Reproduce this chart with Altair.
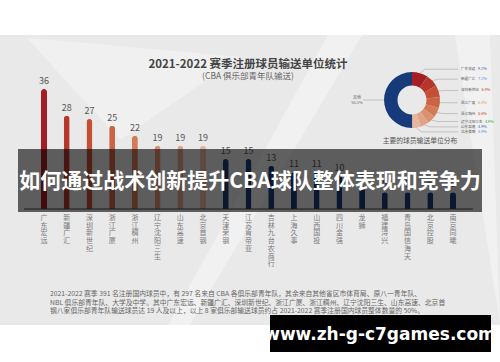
import altair as alt
import pandas as pd
import numpy as np

# ---------------- data ----------------
teams = ["广东宏远", "新疆广汇", "深圳新世纪", "浙江广厦", "浙江稠州", "辽宁沈阳三生",
         "山东高速", "北京首钢", "天津荣钢", "江苏肯帝亚", "吉林九台农商行", "上海久事",
         "山西国投", "四川金强", "龙狮", "福建浔兴", "青岛国信海天", "北京控股", "南京同曦"]
players = [36, 28, 27, 25, 22, 19, 19, 19, 15, 15, 13, 11, 11, 10, 7, 5, 5, 5, 5]

warm = ["#a61e25", "#b5372c", "#c24f36", "#cb6444", "#d47a57", "#db906f", "#e0a386", "#e5b59d"]
navy = "#173b7a"
bar_colors = warm + [navy] * (len(teams) - len(warm))

donut_names = ["广东宏远", "新疆广汇", "深圳新世纪", "浙江广厦", "浙江稠州",
               "辽宁沈阳三生", "山东高速", "北京首钢", "其他"]
donut_pct = [9.2, 7.2, 6.9, 6.4, 5.6, 4.9, 4.9, 4.9, 50.1]
donut_colors = warm + [navy]
pct_text_colors = ["#3b5ba5", "#4a90d9", "#c0392b", "#e0a030", "#c0392b",
                   "#2ca02c", "#3b5ba5", "#4a90d9"]

title_text = "2021-2022 赛季注册球员输送单位统计"
subtitle_text = "(CBA 俱乐部青年队输送)"
donut_caption = "主要的球员输送单位分布"
banner_text = "如何通过战术创新提升CBA球队整体表现和竞争力"
footer_lines = [
    "\u3000\u30002021-2022 赛季 391 名注册国内球员中，有 297 名来自 CBA 各俱乐部青年队，其余来自其他省区市体育局、原八一青年队、",
    "NBL 俱乐部青年队、大学及中学。其中广东宏远、新疆广汇、深圳新世纪、浙江广厦、浙江稠州、辽宁沈阳三生、山东高速、北京首",
    "钢八家俱乐部青年队输送球员达 19 人及以上，以上 8 家俱乐部输送球员约占 2021-2022 赛季注册国内球员整体数量的 50%。",
]
url_text = "www.zh-g-c7games.com"

FONT = "Noto Sans CJK SC"

# ---------------- tables ----------------
bars_df = pd.DataFrame({"team": teams, "players": players, "color": bar_colors})
donut_df = pd.DataFrame({"name": donut_names, "pct": donut_pct,
                         "color": donut_colors, "idx": range(len(donut_names))})

# donut geometry (layout)
CX, CY, R_OUT, R_IN = 412, 100, 28, 14.5
cum = np.cumsum(donut_pct)
start = np.concatenate([[0], cum[:-1]])
mid_ang = (start + np.array(donut_pct) / 2) / 100 * 2 * np.pi

lab_rows, line_rows = [], []
prev_y = -1e9
for i in range(8):
    a = mid_ang[i]
    ly = CY - 30 * np.cos(a)
    ly = max(ly, prev_y + 5)
    if i == 0:
        ly = ly - 2
    prev_y = ly
    ex, ey = CX + R_OUT * np.sin(a), CY - R_OUT * np.cos(a)
    bx = CX + (R_OUT + 5) * np.sin(a) if np.sin(a) > 0 else ex
    bx = max(bx, ex + 2)
    line_rows += [{"k": i, "o": 0, "px": ex, "py": ey},
                  {"k": i, "o": 1, "px": bx + 3, "py": ly},
                  {"k": i, "o": 2, "px": 458, "py": ly}]
    n = len(donut_names[i])
    lab_rows.append({"name": donut_names[i], "pct": f"{donut_pct[i]}%",
                     "tc": pct_text_colors[i], "nx": 461, "px": 461 + n * 3.4 + 3.5, "ly": ly})
# other label
line_rows += [{"k": 8, "o": 0, "px": CX - R_OUT, "py": CY},
              {"k": 8, "o": 1, "px": 363, "py": CY}]
lab_df = pd.DataFrame(lab_rows)
line_df = pd.DataFrame(line_rows)

one = pd.DataFrame({"a": [0]})

# ---------------- background ----------------
panel = alt.Chart(one).mark_rect(color="#e9e9e9").encode(
    x=alt.value(0), x2=alt.value(500), y=alt.value(35), y2=alt.value(325))

deco1 = alt.Chart(pd.DataFrame({"y": [35, 325], "x": [328, 168], "x2": [362, 190]})).mark_area(
    color="#f1f1f1", orient="horizontal").encode(
    y=alt.Y("y:Q", scale=None), x=alt.X("x:Q", scale=None), x2="x2:Q")
deco2 = alt.Chart(pd.DataFrame({"y": [35, 325], "x": [455, 500], "x2": [490, 500]})).mark_area(
    color="#f1f1f1", orient="horizontal").encode(
    y=alt.Y("y:Q", scale=None), x=alt.X("x:Q", scale=None), x2="x2:Q")
deco3 = alt.Chart(pd.DataFrame({"x": [27, 120, 240], "y": [38, 46, 57], "y2": [38, 140, 57]})).mark_area(
    color="#f0f0f0").encode(
    x=alt.X("x:Q", scale=None), y=alt.Y("y:Q", scale=None), y2="y2:Q")

title = alt.Chart(one).mark_text(font=FONT, fontSize=11.5, fontWeight="bold", color="#444444").encode(
    x=alt.value(248), y=alt.value(65), text=alt.value(title_text))
subtitle = alt.Chart(one).mark_text(font=FONT, fontSize=8.5, color="#666666").encode(
    x=alt.value(248), y=alt.value(76), text=alt.value(subtitle_text))

# ---------------- bars ----------------
X = alt.X("team:N", sort=None, axis=None, scale=alt.Scale(type="point", range=[44, 453], padding=0))
Y = alt.Y("players:Q", axis=None, scale=alt.Scale(domain=[0, 36], range=[209, 89]))

bars = alt.Chart(bars_df).mark_bar(width=6, cornerRadiusTopLeft=3, cornerRadiusTopRight=3).encode(
    x=X, y=Y, color=alt.Color("color:N", scale=None))
values = alt.Chart(bars_df).mark_text(font=FONT, fontSize=9, dy=-8, color="#555555").encode(
    x=X, y=Y, text="players:Q")
baseline = alt.Chart(one).mark_rule(color="#444444", strokeWidth=1).encode(
    x=alt.value(24), x2=alt.value(473), y=alt.value(209))
xlabels = alt.Chart(bars_df).transform_calculate(chars="split(datum.team, '')").mark_text(
    font=FONT, fontSize=7, lineHeight=7.7, baseline="top", color="#7a7a7a").encode(
    x=X, y=alt.value(214), text="chars:N")

# ---------------- donut ----------------
donut = alt.Chart(donut_df).mark_arc(outerRadius=R_OUT, innerRadius=R_IN).encode(
    theta=alt.Theta("pct:Q", stack=True), order=alt.Order("idx:Q"),
    color=alt.Color("color:N", scale=None), x=alt.value(CX), y=alt.value(CY))
leaders = alt.Chart(line_df).mark_line(color="#9a9a9a", strokeWidth=0.5).encode(
    x=alt.X("px:Q", scale=None), y=alt.Y("py:Q", scale=None), detail="k:N", order="o:Q")
dnames = alt.Chart(lab_df).mark_text(font=FONT, fontSize=3.6, align="left", color="#555555").encode(
    x=alt.X("nx:Q", scale=None), y=alt.Y("ly:Q", scale=None), text="name:N")
dpcts = alt.Chart(lab_df).mark_text(font=FONT, fontSize=3.8, align="left").encode(
    x=alt.X("px:Q", scale=None), y=alt.Y("ly:Q", scale=None), text="pct:N",
    color=alt.Color("tc:N", scale=None))
other_lab = alt.Chart(one).mark_text(font=FONT, fontSize=4, lineHeight=4.5, color="#666666", baseline="top").encode(
    x=alt.value(357), y=alt.value(96), text=alt.value(["其他", f"{donut_pct[8]}%"]))
caption = alt.Chart(one).mark_text(font=FONT, fontSize=6.8, color="#555555").encode(
    x=alt.value(420), y=alt.value(141), text=alt.value(donut_caption))

# ---------------- overlays ----------------
banner = alt.Chart(one).mark_rect(color="black", opacity=0.6).encode(
    x=alt.value(18), x2=alt.value(482), y=alt.value(149), y2=alt.value(212))
banner_t = alt.Chart(one).mark_text(font=FONT, fontSize=21, fontWeight="bold", color="white").encode(
    x=alt.value(250), y=alt.value(182), text=alt.value(banner_text))

footer = alt.Chart(one).mark_text(font=FONT, fontSize=6.8, lineHeight=8.5, align="left",
                                  baseline="top", color="#666666").encode(
    x=alt.value(50), y=alt.value(291), text=alt.value(footer_lines))

urlbox = alt.Chart(one).mark_rect(color="black").encode(
    x=alt.value(270), x2=alt.value(491), y=alt.value(315), y2=alt.value(352))
url = alt.Chart(one).mark_text(font="DejaVu Sans", fontSize=17, fontWeight="bold", color="white").encode(
    x=alt.value(380), y=alt.value(335), text=alt.value(url_text))

chart = alt.layer(
    panel, deco1, deco2, deco3, title, subtitle,
    bars, values, baseline, xlabels,
    donut, leaders, dnames, dpcts, other_lab, caption,
    banner, banner_t, footer, urlbox, url,
).resolve_scale(x="independent", y="independent", color="independent").properties(
    width=500, height=362, padding=0, background="white",
    autosize=alt.AutoSizeParams(type="none"),
).configure_view(strokeWidth=0)

chart.save("out.html", embed_options={"renderer": "svg", "actions": False})
